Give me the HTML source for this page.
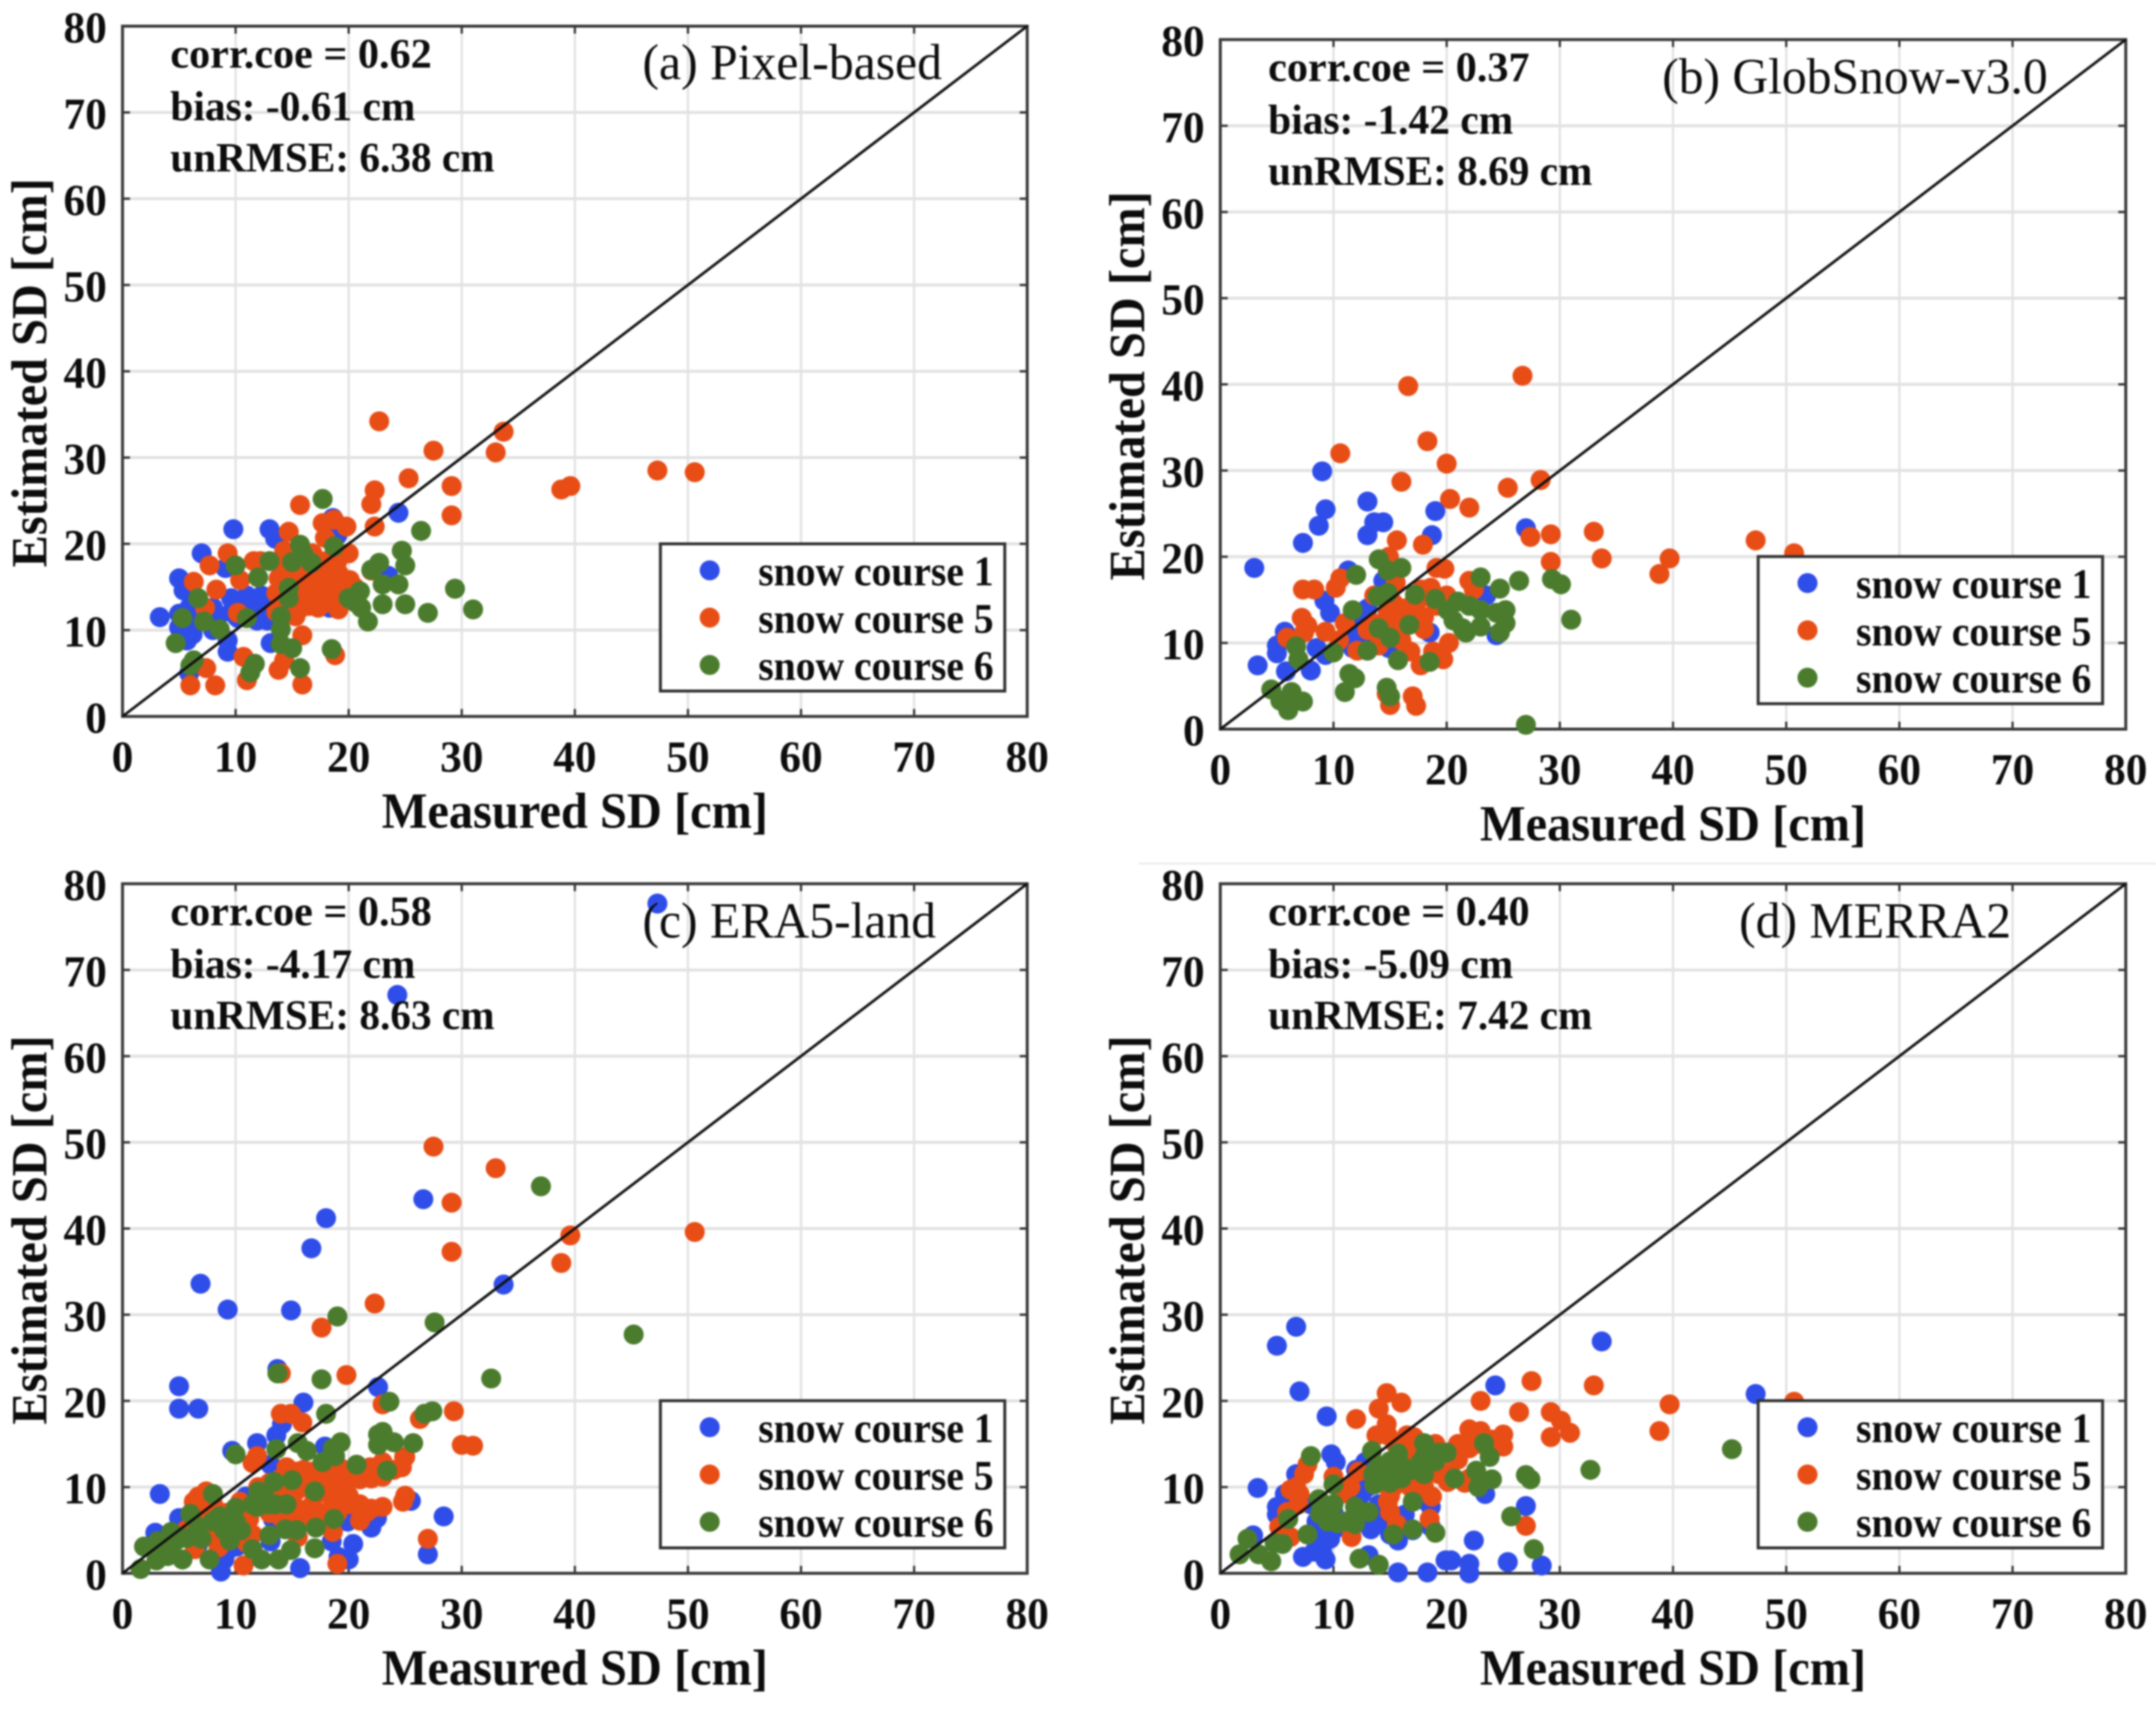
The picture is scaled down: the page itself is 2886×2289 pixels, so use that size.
<!DOCTYPE html>
<html lang="en">
<head>
<meta charset="utf-8">
<title>Snow depth scatter comparison</title>
<style>
html,body{margin:0;padding:0;background:#fff;}
#chart-root{display:block;width:2886px;height:2289px;filter:blur(1px);}
text{font-family:"Liberation Serif",serif;fill:#0c0c0c;}
</style>
</head>
<body>
<svg id="chart-root" xmlns="http://www.w3.org/2000/svg" width="2886" height="2289" viewBox="0 0 2886 2289"></svg>
<script>
const tickValues = [0,10,20,30,40,50,60,70,80];
const courseNames = ["snow course 1","snow course 5","snow course 6"];
const courseColors = ["#2f4de9","#e84d16","#4b7c2e"];

const aBlueX = [3.3,5.0,5.4,7.0,9.8,13.0,13.5,24.4,18.6,19,23.5,5,5,5.7,5.9,5.9,9.3,9.3,9.6,11,12.3,10.2,11.9,12.8,13.1,8,8.5,8,9.1,14.8,18.3,11.5,10.5,13.2,10.5,11.5,12.5,13,9.8,10,12,5.3,5.5,6.2,6];
const aBlueY = [11.5,16.0,14.6,18.9,21.7,21.7,20.6,23.6,23,21,16.3,11.9,10.3,8.8,12.6,5,7.5,8.8,13.7,14,14,11.4,11.1,11.1,8.5,12.6,11.7,10,17.2,13.2,12.6,13,13,12.5,13.5,13.5,13,12.5,12.6,11.7,12,11,10,9.5,11];
const aOrangeX = [22.7,33.7,33,27.5,25.3,29.1,29.1,22.3,22,22.3,38.8,39.6,47.3,50.6,15.7,14.7,14.3,17.7,18.7,19.8,17.9,20,9.3,7.7,11.6,12.2,10.4,6.3,8.3,7.3,10.2,13.6,15.3,15.9,14.3,13.8,10.7,11,7.4,6,8.2,15.9,18.8,22,24.7,13.8,14.8,13.6,16.8,17.3,18.6,19.1,16.3,17.3,19.1,17.3,18.6,20.1,19.3,15.8,16.3,17.8,18.1,15.3,16,17,18,18,19,17,16.5,15,14.5,15.5,16.5,18,19,20.5,19.5,14];
const aOrangeY = [34.2,33,30.6,30.8,27.6,26.7,23.3,26.2,24.6,22,26.3,26.7,28.5,28.3,24.5,21.4,19.2,22.4,22.8,22,20.7,18.9,18.9,17.5,18,18,15.8,15.6,14.7,12.6,12,12.1,11.6,9.4,6.5,5.4,6.9,4.2,5.6,3.6,3.6,3.7,7.1,16.9,19.2,16,16.6,14.3,18.9,16,17.2,16.6,13.7,12.6,12.4,14.9,14.9,15.8,13.7,12.6,16,17.8,13.2,14.9,14,15,15.5,14,15,13,12.8,13.5,15.5,16,17,18,18,15,14.3,17.5];
const aGreenX = [17.7,26.4,24.7,25,22.7,22,29.4,31,25,24.4,23,23,27,21.7,21,20,20.6,21.1,18.7,15.7,15,16,16.7,13,10,12,14.7,14.7,14,14,14,15,18.5,15.7,11.7,11.3,11,8.6,7.2,6.7,5.3,4.7,6.3,6];
const aGreenY = [25.2,21.5,19.2,17.5,17.8,17,14.8,12.4,13,15.3,15.3,13,12,11,14.5,13.7,13.2,12.6,19.7,19.9,17.9,18.8,17.8,18,17.5,16.1,14.9,13.7,11.6,10.1,8.4,7.9,7.8,5.6,6.1,5.1,11.4,10.1,11,13.7,11.4,8.5,6.5,5.9];

const bBlueX = [3,9,9.3,8.7,7.3,13,14.4,13.6,13,19,18.7,27,11.3,3.3,5.8,8,5.7,5,5,7.2,9.2,9.7,9.3,8.5,13,12.5,11.7,14.9,14.4,18.5,23.5,24.4,12.3,13,12,11.5,12.5];
const bBlueY = [18.7,29.9,25.5,23.6,21.6,26.4,24,24,22.5,25.3,22.5,23.3,18.4,7.4,6.7,6.8,11.3,9.7,8.8,12.9,14.9,13.5,8.6,9.4,14,10.9,9.4,9.4,17.2,11.2,15.5,10.9,12.3,11,10.5,11.5,9.5];
const bOrangeX = [26.7,16.6,18.3,20,10.6,16,28.3,25.4,20.3,22,15.6,17.9,27.4,29.2,33,29.2,33.7,39.7,38.8,47.3,50.7,19.8,19.1,14.9,7.3,8.3,10.6,10.2,22,22.4,18.6,20,19.1,15.5,17.8,13.6,7.2,7.7,5.9,7.4,9.3,11,10.5,13.5,14.8,15.5,17.2,18,16,12.1,14,16.8,20.2,18.8,19.7,17.7,14.7,15,17,17.3,15.3,15,16,14.5,16,17,18,17.5,13];
const bOrangeY = [41,39.8,33.4,30.8,32,28.7,28.9,28,26.7,25.7,21.9,21.4,22.3,22.6,22.9,19.4,19.8,19.8,18,21.9,20.4,18.6,18.7,20,16.2,16.2,17.5,16.4,17.2,16.2,16.4,15.5,14.3,17,16.2,15.5,12.9,12,10.6,11.2,11.3,12.3,10.3,12.3,13.5,12.9,13.2,11.6,10.3,9.1,9.7,9,10,9,8.1,7.4,4.1,2.8,3.8,2.7,14.6,12,11.5,11,14,14.5,13,15,11.5];
const bGreenX = [14,14.8,16,12,23,24.7,26.4,29.3,30.1,31,13.9,14.8,17.2,19,11.7,21,22,23,25.2,24.4,20.1,20.6,21.4,21.7,23,25.2,24.7,14,15,16.7,13,10,6.7,6.9,15.7,18.5,11.4,11.9,11,14.7,15,4.5,6.3,7.3,5.3,6,27];
const bGreenY = [19.7,18.4,18.7,17.9,17.6,16.3,17.2,17.4,16.8,12.7,15.4,15.8,15.6,15.1,13.8,14.8,14.3,13.8,13.8,13.5,13.8,12.6,11.7,11.2,11.9,12.3,11.2,11.7,10.6,12.1,9.1,8.9,9.6,8.1,8,7.8,6.4,5.9,4.3,4.8,3.8,4.6,4.3,3.2,3.3,2.2,0.5];

const cBlueX = [47.3,24.3,26.6,18,16.7,6.9,9.3,14.9,33.7,13.7,5,5,6.7,16,22.6,14.1,13.6,11.9,9.7,17.9,13.1,3.3,5,2.9,8.7,15.7,27,28.4,25.5,20.4,20,19.1,18.5,22,22.5,19.9,13.3,13.1,10.1,9.2,9,16.8,10.9,6.7];
const cBlueY = [77.7,67.1,43.4,41.2,37.7,33.6,30.6,30.5,33.5,23.7,21.7,19.1,19.1,19.8,21.6,17.3,16,15.1,14.2,14.7,12.6,9.2,6.4,4.7,0.2,0.6,2.2,6.6,8.4,3.4,1.6,1.9,3.7,5.3,6.4,6,6.3,3.7,3.1,2.5,1.6,6.3,8.9,3.4];
const cOrangeX = [27.5,33,29.1,29.1,39.6,50.6,38.8,22.3,17.6,14,19.8,23,29.3,26.3,30,31,27,19,10.7,14,14.9,15.9,11.9,11.5,24.9,24.7,23,23,21.9,21,19.6,18.3,16.8,15.3,14.5,14.3,15.5,16.8,19.3,25,24.8,23,21.6,21,20.1,18.6,16.8,15.3,15.3,18.6,17.1,15.5,7.4,6.7,8,6.3,10.4,12,11.2,11.5,8,6.4,5.7,13.5,14,15,16,17,18,18,19,20,21,22,20,21,22,19,17.5,16,14,13,16,19,13,14,24,25,7.5,9,9.5,11,11,8.5];
const cOrangeY = [49.5,47,43,37.3,39.2,39.6,36,31.3,28.5,23.2,23,19.6,18.8,17.9,14.9,14.8,4,1.1,0.9,18.5,18.5,17.5,13.6,12.8,13.5,12.3,12.9,11.2,12.3,10.9,12,11.2,11.8,11.8,12.3,10.3,9.7,10.3,10,9,8.3,7.7,7.1,6.1,8,8.3,8,7.7,6.3,4.8,5.7,4.2,9.5,8.9,8,8.3,8.3,10,6.3,4.5,4.2,2.8,5.1,9,8,9,10,9,9.5,11,11,11,11.5,11,9,8,7.5,7,7,6.5,6.5,7,12,12.5,10.5,11,12,13.5,7,7,5.5,5,3.5,3];
const cGreenX = [37,45.2,32.6,19,27.6,13.7,17.6,23.6,27.4,26.7,18,22.6,23,24,22.6,25.7,19.3,18.6,15.5,16.3,13.6,10,17.7,18.8,20.7,23.4,15,13.4,12,17,8,10,13.5,11.9,12.9,18.7,17.1,15.4,14.4,13,10.5,9,8.6,6,6.7,4.3,5.7,3.1,1.9,3,1.6,5.3,7.7,17,14.9,13.8,12.3,11.5,10,9.5,2.5,3.5,4.5,5,7,8,4,12.5,11.5,14.5];
const cGreenY = [44.9,27.7,22.6,29.8,29.1,23.2,22.5,19.9,18.8,18.5,18.5,16.1,16.4,15.2,14.9,15.1,15.2,14.5,15.1,14.2,14.4,13.8,12.9,13.6,12.6,11.9,10.8,10.6,9.5,9.5,9.2,7.6,8,7.7,8,6.3,5.3,5,5.1,4.4,5,5,6.6,6.9,5.4,4.8,4.1,3.7,3.1,1.5,0.5,1.6,1.6,2.9,2.7,1.6,1.6,2.8,6,3.8,3,3,3.5,4,4,6,2,9,8,8];

const dBlueX = [6.7,5,7,9.4,33.7,24.3,47.3,3.3,9.8,10.2,5.7,5,5,23.4,27,22.4,20.4,19.9,22,22,25.4,28.4,15.7,18.3,13.1,15.7,9.3,7.3,8.3,9.3,10,2.9,12.5,12,12.8,13.3,14,16.3,18.6,18.6,11.7,9.7,6.7,6,8,8.5,9,8.7,10,9,12.5,15,17,14,13,12,15,18];
const dBlueY = [28.6,26.4,21.1,18.2,26.9,21.8,20.8,9.9,13.8,12.9,9.2,7.7,6.8,9.2,7.8,3.8,1.5,1.5,1.1,0,1.3,0.9,0.1,0.1,2.1,3.8,1.6,1.9,2.5,4.2,7.1,4.4,9.2,12,12.9,5.1,5.7,6.8,7.7,5.4,10.3,4,11.5,9,8,6,4.5,3,5,2.5,7,7,5,8,10,9,4.5,8.5];
const dOrangeX = [27.5,33,50.7,23,39.7,38.8,26.4,29.2,30.1,29.2,30.9,14.7,16,14,12,14.7,13.8,14.8,17.1,16.6,22,23,25,25,24,21,21,20.1,19.3,21.6,20.1,18.7,16.8,15.3,14.8,15,15.6,18.5,27,11.6,6.7,6.2,7.7,7.4,7,6.9,10,10.7,11.5,12.2,5.9,5.2,6.2,15,15,16,17,18,19,20,21,22,23,24,19,20,18,17,22,23,15.5,16.5];
const dOrangeY = [22.3,21.8,19.9,20,19.6,16.5,18.7,18.7,17.7,15.8,16.3,20.9,19.8,19.1,17.9,17.3,16,16,15.8,14.9,16.7,16.5,16.1,14.7,15.5,14.9,13.2,13.8,11.5,10.5,10.6,8.9,10,10,8.3,7.1,5.7,6.3,5.5,4.2,10,9.7,12.6,11.5,9.2,8,11.2,9.2,10,11.8,7.1,5.4,4.2,11,9,12.5,13.5,14,15,14,15,14.5,15,14.5,12,11.5,10,14.5,11,10.5,15,16];
const dGreenX = [8,32.7,45.2,27,27.4,23.3,23.8,24,22.6,22.8,20.7,19.3,18,17.7,17.7,15.7,13.4,13.6,13.8,15,16.6,17,10,8.7,8.8,10.4,11.9,11.9,13.1,6,7.7,17,15.3,19,25.7,27.7,12.3,14,4.5,5.5,4.8,3.4,2.4,1.7,14,15,16,17,18,19,20,15,16,18,13.5,11,12,9.5,10];
const dGreenY = [13.6,12,14.4,11.4,10.9,15.1,13.5,10.9,11.9,10,11,14,15.1,11.8,12.9,13.9,14.2,10.3,12,11.5,12,8.3,10.3,8.6,6.9,5.8,7.7,5.7,7.1,6.3,4.5,5.1,4.5,4.7,6.6,2.8,1.7,1,1.4,3.4,3.5,2.2,4,2.2,12.5,13,12.5,12,11.5,13,14,10.5,11,13.5,11.5,6,6.5,6,8];

const panelAStats = ["corr.coe = 0.62","bias: -0.61 cm","unRMSE: 6.38 cm"];
const panelBStats = ["corr.coe = 0.37","bias: -1.42 cm","unRMSE: 8.69 cm"];
const panelCStats = ["corr.coe = 0.58","bias: -4.17 cm","unRMSE: 8.63 cm"];
const panelDStats = ["corr.coe = 0.40","bias: -5.09 cm","unRMSE: 7.42 cm"];

const panels = [
  {id:"a",title:"(a) Pixel-based",left:164,right:1375,top:35,bottom:959,titleX:860,titleW:401,titleY:106,stats:panelAStats,series:[[aBlueX,aBlueY],[aOrangeX,aOrangeY],[aGreenX,aGreenY]]},
  {id:"b",title:"(b) GlobSnow-v3.0",left:1633.5,right:2845.5,top:53,bottom:976,titleX:2225,titleW:516,titleY:125,stats:panelBStats,series:[[bBlueX,bBlueY],[bOrangeX,bOrangeY],[bGreenX,bGreenY]]},
  {id:"c",title:"(c) ERA5-land",left:164,right:1375,top:1183,bottom:2106,titleX:860,titleW:393,titleY:1255,stats:panelCStats,series:[[cBlueX,cBlueY],[cOrangeX,cOrangeY],[cGreenX,cGreenY]]},
  {id:"d",title:"(d) MERRA2",left:1633.5,right:2845.5,top:1183,bottom:2106,titleX:2328,titleW:364,titleY:1255,stats:panelDStats,series:[[dBlueX,dBlueY],[dOrangeX,dOrangeY],[dGreenX,dGreenY]]}
];

const statWidths = [350,328,434];
const NS = "http://www.w3.org/2000/svg";
const root = document.getElementById("chart-root");

function make(tag, attrs, parent){
  const n = document.createElementNS(NS, tag);
  for (const k in attrs) n.setAttribute(k, attrs[k]);
  parent.appendChild(n);
  return n;
}

const separator = make("line",{x1:1524,y1:1156,x2:2886,y2:1156,stroke:"#e6e6e6","stroke-width":2},root);



panels.forEach(function(p){
  const xScale = function(v){ return p.left + (v/80)*(p.right-p.left); };
  const yScale = function(v){ return p.bottom - (v/80)*(p.bottom-p.top); };

  const g = make("g",{},root);
  
  

  const bg = make("rect",{x:p.left,y:p.top,width:p.right-p.left,height:p.bottom-p.top,fill:"#fff"},g);
  
  

  tickValues.forEach(function(t){
    if (t>0 && t<80){
      const gx = make("line",{x1:xScale(t),x2:xScale(t),y1:p.top,y2:p.bottom,stroke:"#e2e2e2","stroke-width":3},g);
      
      
      const gy = make("line",{x1:p.left,x2:p.right,y1:yScale(t),y2:yScale(t),stroke:"#e2e2e2","stroke-width":4},g);
      
      
    }
    const tx1 = make("path",{d:"M"+xScale(t)+" "+p.bottom+"v-10M"+xScale(t)+" "+p.top+"v10",stroke:"#333","stroke-width":3,fill:"none"},g);
    
    
    const ty1 = make("path",{d:"M"+p.left+" "+yScale(t)+"h10M"+p.right+" "+yScale(t)+"h-10",stroke:"#333","stroke-width":3,fill:"none"},g);
    
    

    const lx = make("text",{x:xScale(t),y:p.bottom+74,"text-anchor":"middle","font-size":59,"font-weight":"bold",textLength:String(t).length*29,lengthAdjust:"spacingAndGlyphs"},g);
    lx.textContent = String(t);
    
    
    const ly = make("text",{x:p.left-21,y:yScale(t)+22,"text-anchor":"end","font-size":59,"font-weight":"bold",textLength:String(t).length*29,lengthAdjust:"spacingAndGlyphs"},g);
    ly.textContent = String(t);
    
    
  });

  const frame = make("rect",{x:p.left,y:p.top,width:p.right-p.left,height:p.bottom-p.top,fill:"none",stroke:"#3a3a3a","stroke-width":4},g);
  
  

  p.series.forEach(function(s,i){
    const sg = make("g",{fill:courseColors[i]},g);
    
    
    s[0].forEach(function(xv,j){
      const c = make("circle",{cx:xScale(xv),cy:yScale(s[1][j]),r:13.4},sg);
      
      
    });
  });

  const diag = make("line",{x1:xScale(0),y1:yScale(0),x2:xScale(80),y2:yScale(80),stroke:"#111","stroke-width":3.6},g);
  
  

  p.stats.forEach(function(line,i){
    const st = make("text",{x:p.left+64,y:p.top+[55.5,126,194.5][i],"font-size":56,"font-weight":"bold",textLength:statWidths[i],lengthAdjust:"spacingAndGlyphs"},g);
    st.textContent = line;
    
    
  });

  const ttl = make("text",{x:p.titleX,y:p.titleY,"font-size":68,textLength:p.titleW,lengthAdjust:"spacingAndGlyphs"},g);
  ttl.textContent = p.title;
  
  

  const xt = make("text",{x:(p.left+p.right)/2,y:p.bottom+149,"text-anchor":"middle","font-size":68,"font-weight":"bold",textLength:517,lengthAdjust:"spacingAndGlyphs"},g);
  xt.textContent = "Measured SD [cm]";
  
  

  const yc = (p.top+p.bottom)/2 + 2;
  const yx = p.left-102;
  const yt = make("text",{x:yx,y:yc,"text-anchor":"middle","font-size":68,"font-weight":"bold",textLength:521,lengthAdjust:"spacingAndGlyphs",transform:"rotate(-90 "+yx+" "+yc+")"},g);
  yt.textContent = "Estimated SD [cm]";
  
  

  const lb = p.left+720, lt = p.bottom-231;
  const lg = make("g",{},g);
  
  
  const box = make("rect",{x:lb,y:lt,width:461,height:197,fill:"#fff",stroke:"#333","stroke-width":4},lg);
  
  
  courseNames.forEach(function(nm,i){
    const my = lt+35.5+i*63.3;
    const m = make("circle",{cx:lb+66,cy:my,r:13.4,fill:courseColors[i]},lg);
    
    
    const t = make("text",{x:lb+131,y:my+20,"font-size":56,"font-weight":"bold",textLength:315,lengthAdjust:"spacingAndGlyphs"},lg);
    t.textContent = nm;
    
    
  });
});
</script>
</body>
</html>
